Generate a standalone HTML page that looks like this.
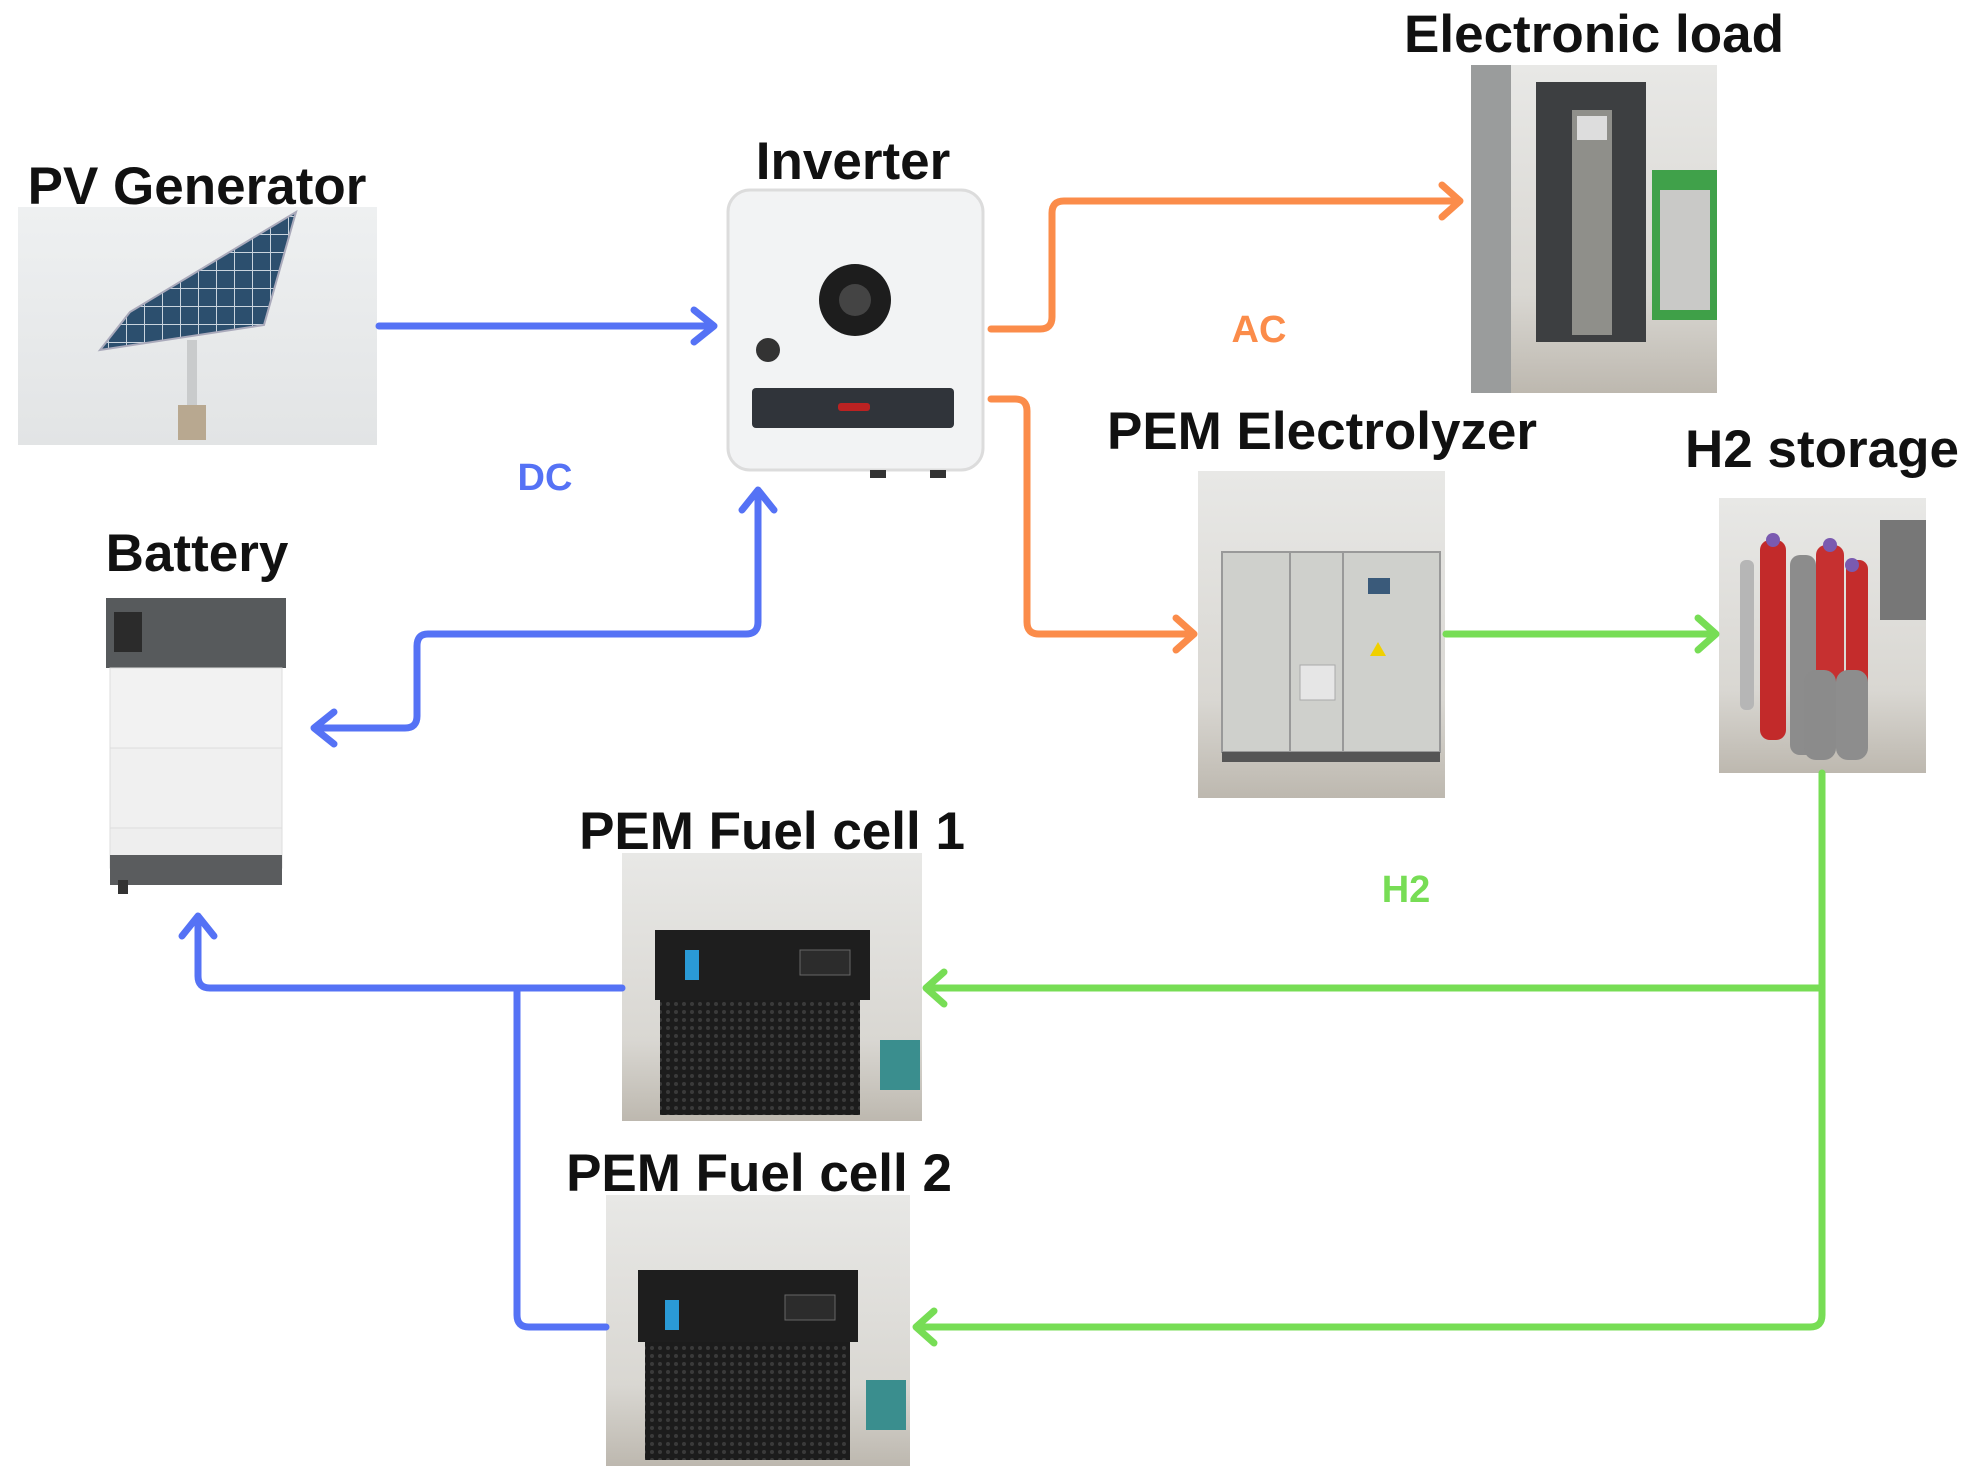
<!DOCTYPE html>
<html><head><meta charset="utf-8"><style>
html,body{margin:0;padding:0;background:#fff;}
svg{display:block;}
text{font-family:"Liberation Sans",sans-serif;font-weight:bold;}
</style></head><body>
<svg width="1968" height="1479" viewBox="0 0 1968 1479" xmlns="http://www.w3.org/2000/svg">
<defs>
<linearGradient id="room" x1="0" y1="0" x2="0" y2="1"><stop offset="0" stop-color="#e8e8e6"/><stop offset="0.7" stop-color="#d9d7d2"/><stop offset="1" stop-color="#bdb8af"/></linearGradient>
<linearGradient id="pvbg" x1="0" y1="0" x2="0" y2="1"><stop offset="0" stop-color="#eef0f1"/><stop offset="1" stop-color="#e2e4e5"/></linearGradient>
<pattern id="grid" width="18" height="18" patternUnits="userSpaceOnUse"><rect width="18" height="18" fill="#2c4f6e"/><path d="M0 0H18M0 0V18" stroke="#c9d4de" stroke-width="2"/></pattern>
<pattern id="mesh" width="8" height="8" patternUnits="userSpaceOnUse"><rect width="8" height="8" fill="#1c1c1c"/><circle cx="4" cy="4" r="2" fill="#3a3a3a"/></pattern>
</defs>

<!-- Titles -->
<g font-size="53" fill="#111" text-anchor="middle">
<text x="197" y="204">PV Generator</text>
<text x="853" y="179">Inverter</text>
<text x="1594" y="52">Electronic load</text>
<text x="1322" y="449">PEM Electrolyzer</text>
<text x="1822" y="467">H2 storage</text>
<text x="197" y="571">Battery</text>
<text x="772" y="849">PEM Fuel cell 1</text>
<text x="759" y="1191">PEM Fuel cell 2</text>
</g>
<g font-size="38">
<text x="1259" y="342" fill="#fb8c4a" text-anchor="middle">AC</text>
<text x="545" y="490" fill="#5572f5" text-anchor="middle">DC</text>
<text x="1406" y="902" fill="#77dd55" text-anchor="middle">H2</text>
</g>

<!-- PV image -->
<rect x="18" y="207" width="359" height="238" fill="url(#pvbg)"/>
<polygon points="130,312 296,212 264,325 100,350" fill="url(#grid)" stroke="#aab" stroke-width="2"/>
<rect x="187" y="340" width="10" height="70" fill="#c9cbcc"/>
<rect x="178" y="405" width="28" height="35" fill="#b8a890"/>

<!-- Inverter -->
<rect x="728" y="190" width="255" height="280" rx="22" fill="#f2f3f4" stroke="#dcdcdc" stroke-width="3"/>
<circle cx="855" cy="300" r="36" fill="#1d1d1d"/>
<circle cx="855" cy="300" r="16" fill="#444"/>
<circle cx="768" cy="350" r="12" fill="#333"/>
<rect x="752" y="388" width="202" height="40" rx="4" fill="#30343a"/>
<rect x="838" y="403" width="32" height="8" rx="3" fill="#b22"/>
<rect x="870" y="470" width="16" height="8" fill="#333"/><rect x="930" y="470" width="16" height="8" fill="#333"/>

<!-- Electronic load -->
<rect x="1471" y="65" width="246" height="328" fill="url(#room)"/>
<rect x="1471" y="65" width="40" height="328" fill="#9a9c9c"/>
<rect x="1536" y="82" width="110" height="260" fill="#3d3f41"/>
<rect x="1572" y="110" width="40" height="225" fill="#8f8f8a"/>
<rect x="1577" y="116" width="30" height="24" fill="#ddd"/>
<rect x="1652" y="170" width="65" height="150" fill="#2f9a3a" opacity="0.9"/>
<rect x="1660" y="190" width="50" height="120" fill="#c9c9c7"/>

<!-- Electrolyzer -->
<rect x="1198" y="471" width="247" height="327" fill="url(#room)"/>
<rect x="1222" y="552" width="218" height="200" fill="#cfd0cc" stroke="#999" stroke-width="2"/>
<line x1="1290" y1="552" x2="1290" y2="752" stroke="#999" stroke-width="2"/>
<line x1="1343" y1="552" x2="1343" y2="752" stroke="#999" stroke-width="2"/>
<rect x="1300" y="665" width="35" height="35" fill="#e6e6e6" stroke="#aaa"/>
<rect x="1368" y="578" width="22" height="16" fill="#3a5a7a"/>
<polygon points="1378,642 1386,656 1370,656" fill="#f0d000"/>
<rect x="1222" y="752" width="218" height="10" fill="#555"/>

<!-- H2 storage -->
<rect x="1719" y="498" width="207" height="275" fill="url(#room)"/>
<rect x="1880" y="520" width="46" height="100" fill="#777"/>
<rect x="1740" y="560" width="14" height="150" rx="6" fill="#b6b6b6"/>
<rect x="1760" y="540" width="26" height="200" rx="10" fill="#c22a2a"/>
<rect x="1790" y="555" width="26" height="200" rx="10" fill="#8c8c8c"/>
<rect x="1816" y="545" width="28" height="200" rx="10" fill="#c63030"/>
<rect x="1846" y="560" width="22" height="190" rx="9" fill="#c42c2c"/>
<rect x="1804" y="670" width="32" height="90" rx="12" fill="#8b8b8b"/>
<rect x="1836" y="670" width="32" height="90" rx="12" fill="#8d8d8d"/>
<circle cx="1773" cy="540" r="7" fill="#7a5ab0"/><circle cx="1830" cy="545" r="7" fill="#7a5ab0"/><circle cx="1852" cy="565" r="7" fill="#7a5ab0"/>

<!-- Battery -->
<rect x="106" y="598" width="180" height="70" fill="#575a5c"/>
<rect x="114" y="612" width="28" height="40" fill="#2b2b2b"/>
<rect x="110" y="668" width="172" height="80" fill="#f2f2f2" stroke="#ddd"/>
<rect x="110" y="748" width="172" height="80" fill="#f0f0f0" stroke="#ddd"/>
<rect x="110" y="828" width="172" height="40" fill="#eee" stroke="#ddd"/>
<rect x="110" y="855" width="172" height="30" fill="#5a5c5e"/>
<rect x="118" y="880" width="10" height="14" fill="#333"/>

<!-- Fuel cell 1 -->
<rect x="622" y="853" width="300" height="268" fill="url(#room)"/>
<rect x="655" y="930" width="215" height="70" fill="#1e1e1e"/>
<rect x="660" y="1000" width="200" height="115" fill="url(#mesh)"/>
<rect x="685" y="950" width="14" height="30" fill="#2a9ad6"/>
<rect x="800" y="950" width="50" height="25" fill="#2c2c2c" stroke="#666"/>
<rect x="880" y="1040" width="40" height="50" fill="#3a8e8e"/>
<!-- Fuel cell 2 -->
<rect x="606" y="1195" width="304" height="271" fill="url(#room)"/>
<rect x="638" y="1270" width="220" height="72" fill="#1e1e1e"/>
<rect x="645" y="1342" width="205" height="118" fill="url(#mesh)"/>
<rect x="665" y="1300" width="14" height="30" fill="#2a9ad6"/>
<rect x="785" y="1295" width="50" height="25" fill="#2c2c2c" stroke="#666"/>
<rect x="866" y="1380" width="40" height="50" fill="#3a8e8e"/>

<!-- Connectors -->
<g fill="none" stroke-width="7" stroke-linecap="round" stroke-linejoin="round">
<g stroke="#5572f5">
<path d="M379 326H712"/><path d="M694 310L714 326L694 342"/>
<path d="M758 492V622Q758 634 746 634H428Q417 634 417 646V716Q417 728 405 728H316"/><path d="M742 510L758 490L774 510"/><path d="M334 712L314 728L334 744"/>
<path d="M622 988H210Q198 988 198 976V920"/><path d="M182 936L198 916L214 936"/>
<path d="M517 988V1315Q517 1327 529 1327H606"/>
</g>
<g stroke="#fb8c4a">
<path d="M991 329H1040Q1052 329 1052 317V213Q1052 201 1064 201H1458"/><path d="M1442 185L1460 201L1442 217"/>
<path d="M991 399H1015Q1027 399 1027 411V622Q1027 634 1039 634H1192"/><path d="M1176 618L1194 634L1176 650"/>
</g>
<g stroke="#77dd55">
<path d="M1446 634H1714"/><path d="M1698 618L1716 634L1698 650"/>
<path d="M1822 773V1315Q1822 1327 1810 1327H918"/><path d="M934 1311L916 1327L934 1343"/>
<path d="M1822 988H928"/><path d="M944 972L926 988L944 1004"/>
</g>
</g>
</svg>
</body></html>
